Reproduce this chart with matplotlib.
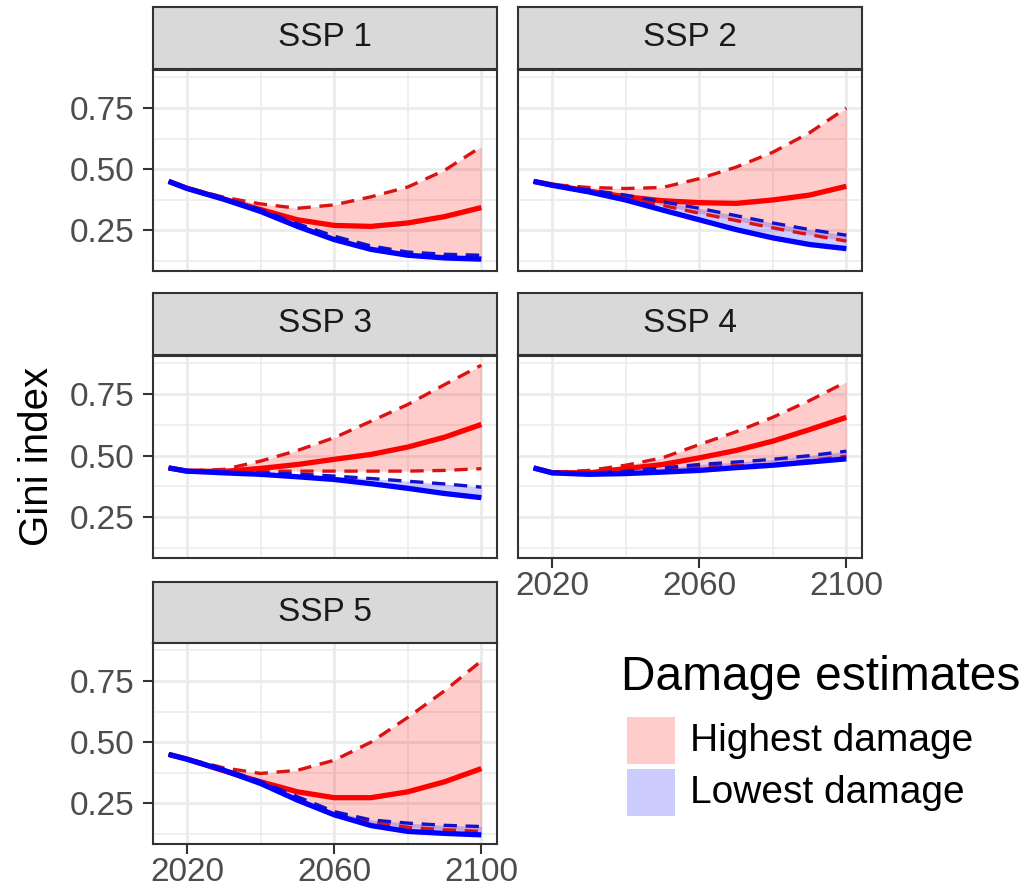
import matplotlib
matplotlib.use("Agg")
import matplotlib.pyplot as plt
from matplotlib.patches import Rectangle
from matplotlib.ticker import FixedLocator

plt.rcParams["font.family"] = ["Liberation Sans", "DejaVu Sans"]

years = [2015, 2020, 2030, 2040, 2050, 2060, 2070, 2080, 2090, 2100]
scenarios = ["SSP 1", "SSP 2", "SSP 3", "SSP 4", "SSP 5"]

# Gini index under the highest damage estimate: lower edge, central, upper edge
high_lo = {
    "SSP 1": [0.45, 0.422, 0.380, 0.333, 0.275, 0.222, 0.180, 0.155, 0.146, 0.142],
    "SSP 2": [0.45, 0.435, 0.410, 0.383, 0.352, 0.320, 0.290, 0.260, 0.232, 0.206],
    "SSP 3": [0.45, 0.437, 0.433, 0.436, 0.437, 0.437, 0.437, 0.437, 0.440, 0.447],
    "SSP 4": [0.45, 0.431, 0.427, 0.434, 0.444, 0.455, 0.459, 0.464, 0.480, 0.498],
    "SSP 5": [0.45, 0.431, 0.388, 0.336, 0.272, 0.210, 0.172, 0.152, 0.142, 0.135],
}
high_mid = {
    "SSP 1": [0.45, 0.422, 0.378, 0.335, 0.293, 0.270, 0.266, 0.280, 0.306, 0.343],
    "SSP 2": [0.45, 0.436, 0.410, 0.387, 0.371, 0.363, 0.360, 0.374, 0.394, 0.430],
    "SSP 3": [0.45, 0.437, 0.436, 0.448, 0.464, 0.485, 0.505, 0.535, 0.575, 0.627],
    "SSP 4": [0.45, 0.431, 0.430, 0.447, 0.464, 0.491, 0.521, 0.559, 0.606, 0.656],
    "SSP 5": [0.45, 0.431, 0.383, 0.338, 0.297, 0.273, 0.273, 0.297, 0.338, 0.392],
}
high_hi = {
    "SSP 1": [0.45, 0.424, 0.385, 0.358, 0.340, 0.354, 0.387, 0.427, 0.495, 0.592],
    "SSP 2": [0.45, 0.437, 0.425, 0.421, 0.425, 0.461, 0.508, 0.569, 0.649, 0.750],
    "SSP 3": [0.45, 0.438, 0.444, 0.478, 0.521, 0.573, 0.640, 0.708, 0.789, 0.868],
    "SSP 4": [0.45, 0.432, 0.440, 0.461, 0.491, 0.545, 0.597, 0.656, 0.724, 0.800],
    "SSP 5": [0.45, 0.432, 0.395, 0.372, 0.385, 0.426, 0.500, 0.601, 0.710, 0.832],
}

# lowest damage estimate: central path (also the band's lower edge) and upper edge
low_mid = {
    "SSP 1": [0.45, 0.421, 0.377, 0.327, 0.266, 0.212, 0.172, 0.148, 0.137, 0.132],
    "SSP 2": [0.45, 0.434, 0.407, 0.374, 0.333, 0.293, 0.253, 0.219, 0.192, 0.175],
    "SSP 3": [0.45, 0.437, 0.430, 0.424, 0.414, 0.403, 0.386, 0.367, 0.346, 0.329],
    "SSP 4": [0.45, 0.430, 0.424, 0.427, 0.433, 0.440, 0.451, 0.461, 0.474, 0.487],
    "SSP 5": [0.45, 0.430, 0.385, 0.331, 0.263, 0.203, 0.159, 0.135, 0.127, 0.121],
}
low_hi = {
    "SSP 1": [0.45, 0.423, 0.382, 0.335, 0.277, 0.226, 0.186, 0.161, 0.152, 0.148],
    "SSP 2": [0.45, 0.436, 0.415, 0.394, 0.367, 0.340, 0.310, 0.280, 0.253, 0.230],
    "SSP 3": [0.45, 0.437, 0.432, 0.430, 0.425, 0.417, 0.407, 0.396, 0.385, 0.372],
    "SSP 4": [0.45, 0.431, 0.428, 0.437, 0.450, 0.464, 0.474, 0.485, 0.500, 0.518],
    "SSP 5": [0.45, 0.432, 0.390, 0.340, 0.277, 0.216, 0.182, 0.169, 0.160, 0.155],
}

x_ticks = [2020, 2060, 2100]
y_ticks = [0.25, 0.50, 0.75]

W, H = 1028, 891
fig = plt.figure(figsize=(W / 100, H / 100), dpi=100)


def px_axes(x0, y0, x1, y1, **kw):
    return fig.add_axes([x0 / W, 1 - y1 / H, (x1 - x0) / W, (y1 - y0) / H], **kw)


GRID = "#EBEBEB"
DARK = "#333333"
TICKTXT = "#4D4D4D"
DASH = (4, 2.6)

# facet slots: (column x-range, strip y-range, panel y-range)
cols = [(153, 497), (518, 862)]
rows = [((7, 69), (70, 271)), ((293, 355), (356, 558)), ((582, 643), (643, 844))]
slots = [(0, 0), (1, 0), (0, 1), (1, 1), (0, 2)]
x_axis_on = {"SSP 4", "SSP 5"}

allv = [v for d in (high_lo, high_hi, low_mid, low_hi) for s in d.values() for v in s]
ymin, ymax = min(allv), max(allv)
pad = (ymax - ymin) * 0.05
ylim = (ymin - pad, ymax + pad)
xpad = (years[-1] - years[0]) * 0.05
xlim = (years[0] - xpad, years[-1] + xpad)

for name, (c, r) in zip(scenarios, slots):
    cx0, cx1 = cols[c]
    (sy0, sy1), (py0, py1) = rows[r]

    strip = px_axes(cx0, sy0, cx1, sy1)
    strip.set_facecolor("#D9D9D9")
    strip.set_xticks([])
    strip.set_yticks([])
    for sp in strip.spines.values():
        sp.set_color(DARK)
        sp.set_linewidth(1.5)
    strip.text(0.5, 0.5, name, ha="center", va="center", fontsize=24,
               color="#1A1A1A", transform=strip.transAxes)

    ax = px_axes(cx0, py0, cx1, py1)
    ax.set_xlim(*xlim)
    ax.set_ylim(*ylim)
    ax.xaxis.set_major_locator(FixedLocator(x_ticks))
    ax.xaxis.set_minor_locator(FixedLocator([2040, 2080]))
    ax.yaxis.set_major_locator(FixedLocator(y_ticks))
    ax.yaxis.set_minor_locator(FixedLocator([0.125, 0.375, 0.625, 0.875]))
    ax.grid(which="major", color=GRID, linewidth=2.0)
    ax.grid(which="minor", color=GRID, linewidth=1.1)
    ax.set_axisbelow(True)
    for sp in ax.spines.values():
        sp.set_color(DARK)
        sp.set_linewidth(1.5)

    ax.fill_between(years, high_lo[name], high_hi[name], color="red", alpha=0.2, lw=0)
    ax.fill_between(years, low_mid[name], low_hi[name], color="blue", alpha=0.2, lw=0)
    ax.plot(years, high_hi[name], color="#DC1212", lw=2.4, dashes=DASH)
    ax.plot(years, high_lo[name], color="#DC1212", lw=2.4, dashes=DASH)
    ax.plot(years, high_mid[name], color="red", lw=3.8, solid_capstyle="butt")
    ax.plot(years, low_hi[name], color="#1212CC", lw=2.4, dashes=DASH)
    ax.plot(years, low_mid[name], color="blue", lw=3.8, solid_capstyle="butt")

    ax.tick_params(which="minor", length=0)
    ax.tick_params(which="major", length=7, width=1.5, color=DARK,
                   labelsize=24, labelcolor=TICKTXT, pad=6)
    ax.tick_params(axis="x", which="major", pad=2.5)
    if c != 0:
        ax.tick_params(axis="y", which="major", left=False, labelleft=False)
    else:
        ax.set_yticklabels([f"{v:.2f}" for v in y_ticks])
    if name not in x_axis_on:
        ax.tick_params(axis="x", which="major", bottom=False, labelbottom=False)
    else:
        ax.set_xticklabels([str(v) for v in x_ticks])

fig.text(37 / W, 1 - 456 / H, "Gini index", rotation=90, ha="center", va="center",
         fontsize=29, color="black")

# legend for the two damage-estimate bands
fig.text(621 / W, 1 - 677 / H, "Damage estimates", ha="left", va="center",
         fontsize=34.5, color="black")
legend_items = [("Highest damage", "red", 717), ("Lowest damage", "blue", 769)]
for label, col, top in legend_items:
    fig.patches.append(Rectangle((627 / W, 1 - (top + 47) / H), 48 / W, 47 / H,
                                 transform=fig.transFigure, facecolor=col,
                                 alpha=0.2, edgecolor="none"))
    fig.text(690 / W, 1 - (top + 24) / H, label, ha="left", va="center",
             fontsize=28, color="black")

fig.savefig("out.png", dpi=100)
